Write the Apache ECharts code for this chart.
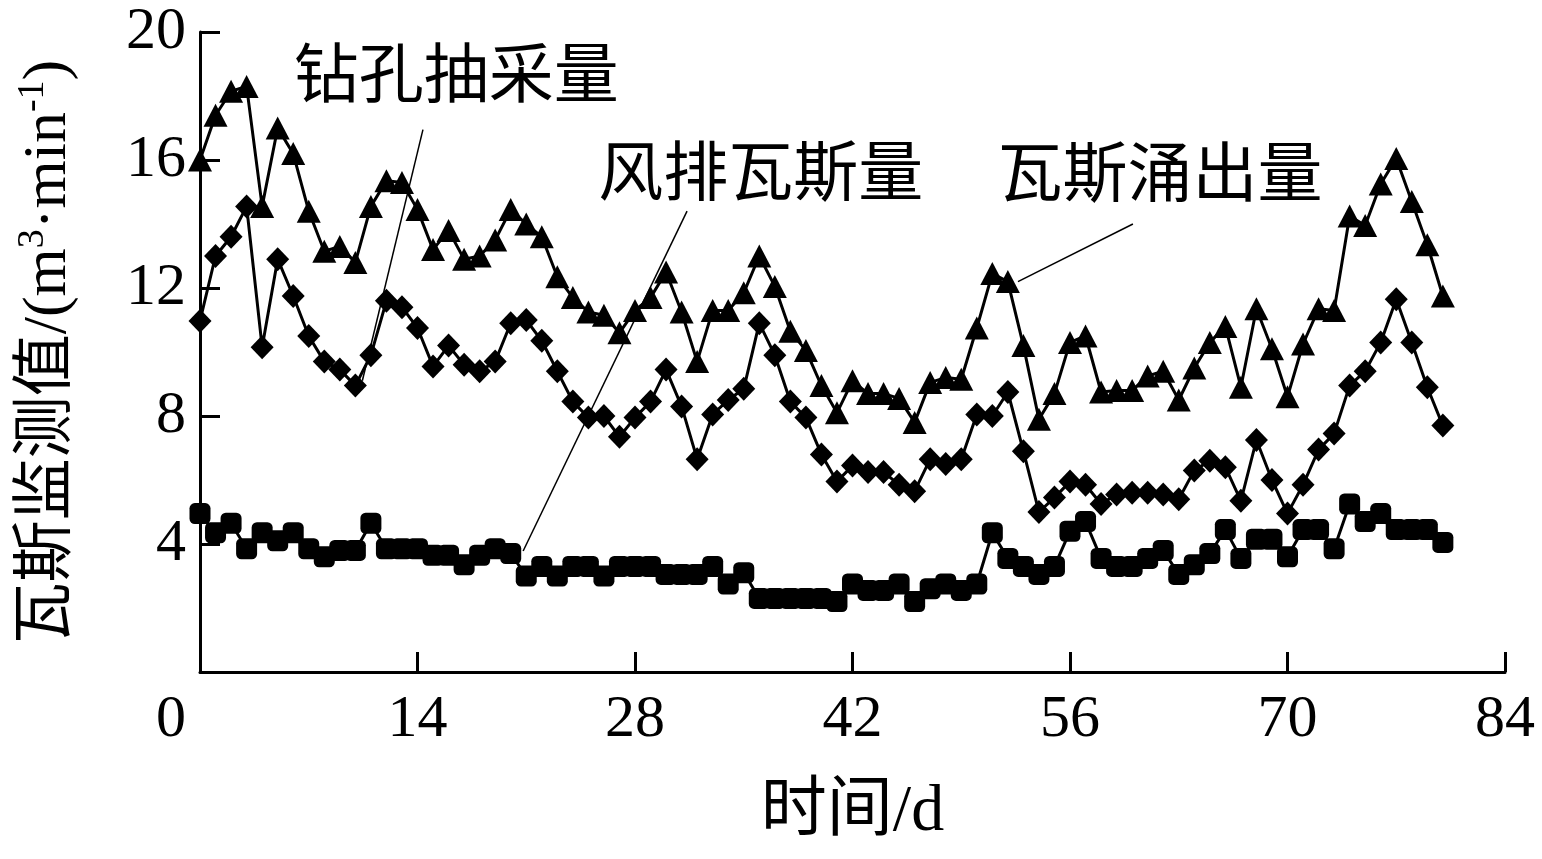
<!DOCTYPE html>
<html>
<head>
<meta charset="utf-8">
<script src="https://cdn.jsdelivr.net/npm/echarts@6/dist/echarts.min.js"></script>
<style>
html,body{margin:0;padding:0;background:#fff;}
#chart{width:1542px;height:859px;}
</style>
</head>
<body>
<div id="chart"></div>
<script>
// ---- data ----
const days = Array.from({length: 81}, (_, i) => i);

// 瓦斯涌出量 (triangles)
const emission = [
  16.0, 17.4, 18.15, 18.3, 14.55, 17.0, 16.2, 14.4, 13.15, 13.3,
  12.8, 14.55, 15.35, 15.3, 14.45, 13.2, 13.8, 12.9, 13.0, 13.5,
  14.45, 14.0, 13.6, 12.35, 11.7, 11.25, 11.15, 10.6, 11.3, 11.7,
  12.5, 11.25, 9.7, 11.3, 11.3, 11.85, 13.0, 12.05, 10.65, 10.05,
  8.95, 8.1, 9.1, 8.7, 8.7, 8.55, 7.8, 9.05, 9.2, 9.15,
  10.75, 12.45, 12.2, 10.2, 7.9, 8.7, 10.3, 10.5, 8.75, 8.8,
  8.8, 9.25, 9.4, 8.5, 9.5, 10.3, 10.8, 8.9, 11.35, 10.1,
  8.6, 10.25, 11.35, 11.3, 14.25, 13.95, 15.25, 16.05, 14.7, 13.35,
  11.75
];

// 钻孔抽采量 (diamonds)
const drainage = [
  10.97, 13.0, 13.6, 14.55, 10.15, 12.9, 11.75, 10.5, 9.7, 9.45,
  8.95, 9.9, 11.6, 11.4, 10.75, 9.55, 10.2, 9.6, 9.4, 9.7,
  10.9, 11.0, 10.35, 9.4, 8.45, 7.95, 8.0, 7.35, 7.95, 8.45,
  9.45, 8.3, 6.65, 8.05, 8.5, 8.85, 10.9, 9.9, 8.45, 7.95,
  6.8, 5.95, 6.45, 6.25, 6.25, 5.85, 5.65, 6.65, 6.5, 6.65,
  8.05, 8.0, 8.75, 6.9, 5.0, 5.45, 5.95, 5.85, 5.25, 5.55,
  5.6, 5.6, 5.55, 5.4, 6.3, 6.6, 6.4, 5.35, 7.25, 6.0,
  4.95, 5.85, 6.95, 7.45, 8.95, 9.4, 10.3, 11.65, 10.3, 8.9,
  7.7
];

// 风排瓦斯量 (squares)
const ventilation = [
  4.95, 4.35, 4.65, 3.85, 4.35, 4.1, 4.35, 3.85, 3.6, 3.8,
  3.8, 4.65, 3.85, 3.85, 3.85, 3.65, 3.65, 3.35, 3.65, 3.85,
  3.7, 3.0, 3.3, 3.0, 3.3, 3.3, 3.0, 3.3, 3.3, 3.3,
  3.05, 3.05, 3.05, 3.3, 2.75, 3.1, 2.3, 2.3, 2.3, 2.3,
  2.3, 2.2, 2.75, 2.55, 2.55, 2.75, 2.2, 2.6, 2.75, 2.55,
  2.75, 4.35, 3.55, 3.3, 3.05, 3.3, 4.4, 4.7, 3.55, 3.3,
  3.3, 3.55, 3.8, 3.05, 3.35, 3.7, 4.45, 3.55, 4.15, 4.15,
  3.6, 4.45, 4.45, 3.85, 5.25, 4.7, 4.95, 4.45, 4.45, 4.45,
  4.05
];

const seriesNames = ['瓦斯涌出量', '钻孔抽采量', '风排瓦斯量'];
const xTicks = [0, 14, 28, 42, 56, 70, 84];
const yTicks = [0, 4, 8, 12, 16, 20];

// annotation anchors in data units: [label, textPos, lineStart, lineEnd]
const notes = [
  ['钻孔抽采量', [16.5, 18.5], [14.35, 16.95], [10.45, 9.1]],
  ['风排瓦斯量', [36.1, 15.45], [31.35, 14.4], [20.8, 3.78]],
  ['瓦斯涌出量', [61.8, 15.4], [60.05, 14.0], [52.65, 12.2]]
];

// ---- chart ----
const serif = '"Liberation Serif", "Times New Roman", "Noto Sans CJK SC", serif';
const chart = echarts.init(document.getElementById('chart'), null, {renderer: 'canvas'});

function pairs(arr) { return arr.map((v, i) => [days[i], v]); }

const lineStyleBase = {color: '#000', width: 3};

chart.setOption({
  backgroundColor: '#fff',
  animation: false,
  grid: {left: 200, right: 37, top: 32, bottom: 187, containLabel: false},
  xAxis: {
    type: 'value',
    min: xTicks[0], max: xTicks[xTicks.length - 1], interval: 14,
    axisLine: {show: true, lineStyle: {color: '#000', width: 3}},
    axisTick: {show: true, inside: true, length: 20, lineStyle: {color: '#000', width: 3}},
    splitLine: {show: false},
    axisLabel: {
      color: '#000', fontFamily: serif, fontSize: 60, margin: 18,
      formatter: v => v === 0 ? '{z|0}' : String(v),
      rich: {z: {fontFamily: serif, fontSize: 60, color: '#000', padding: [0, 58, 0, 0]}}
    },
    name: '时间/d',
    nameLocation: 'middle',
    nameGap: 108,
    nameTextStyle: {color: '#000', fontFamily: serif, fontSize: 66}
  },
  yAxis: {
    type: 'value',
    min: yTicks[0], max: yTicks[yTicks.length - 1], interval: 4,
    axisLine: {show: true, lineStyle: {color: '#000', width: 3}},
    axisTick: {show: true, inside: true, length: 20, lineStyle: {color: '#000', width: 3}},
    splitLine: {show: false},
    axisLabel: {
      color: '#000', fontFamily: serif, fontSize: 60, margin: 14,
      formatter: v => v === 0 ? '' : String(v)
    },
    name: '{n|瓦斯监测值/(m}{s|3}{n|·min}{s|-1}{n|)}',
    nameLocation: 'middle',
    nameRotate: 90,
    nameGap: 120,
    nameTextStyle: {
      color: '#000', fontFamily: serif, fontSize: 62,
      rich: {
        n: {fontFamily: serif, fontSize: 62, color: '#000', lineHeight: 66, verticalAlign: 'bottom'},
        s: {fontFamily: serif, fontSize: 38, color: '#000', lineHeight: 66, verticalAlign: 'top'}
      }
    }
  },
  series: [
    {
      name: seriesNames[0], type: 'line', data: pairs(emission),
      symbol: 'triangle', symbolSize: [24, 23],
      itemStyle: {color: '#000'}, lineStyle: lineStyleBase, z: 3
    },
    {
      name: seriesNames[1], type: 'line', data: pairs(drainage),
      symbol: 'diamond', symbolSize: [23, 24],
      itemStyle: {color: '#000'}, lineStyle: lineStyleBase, z: 3
    },
    {
      name: seriesNames[2], type: 'line', data: pairs(ventilation),
      symbol: 'roundRect', symbolSize: [21, 21],
      itemStyle: {color: '#000'}, lineStyle: {color: '#000', width: 3}, z: 3
    }
  ]
});

// annotations placed from data coordinates
const g = [];
notes.forEach(([label, tp, a, b]) => {
  const t = chart.convertToPixel({gridIndex: 0}, tp);
  const p1 = chart.convertToPixel({gridIndex: 0}, a);
  const p2 = chart.convertToPixel({gridIndex: 0}, b);
  g.push({
    type: 'text', x: t[0], y: t[1], z: 10,
    style: {text: label, fill: '#000', font: '65px ' + serif, align: 'center', verticalAlign: 'middle'}
  });
  g.push({
    type: 'line', z: 10,
    shape: {x1: p1[0], y1: p1[1], x2: p2[0], y2: p2[1]},
    style: {stroke: '#000', lineWidth: 1.5}
  });
});
chart.setOption({graphic: g});
</script>
</body>
</html>
